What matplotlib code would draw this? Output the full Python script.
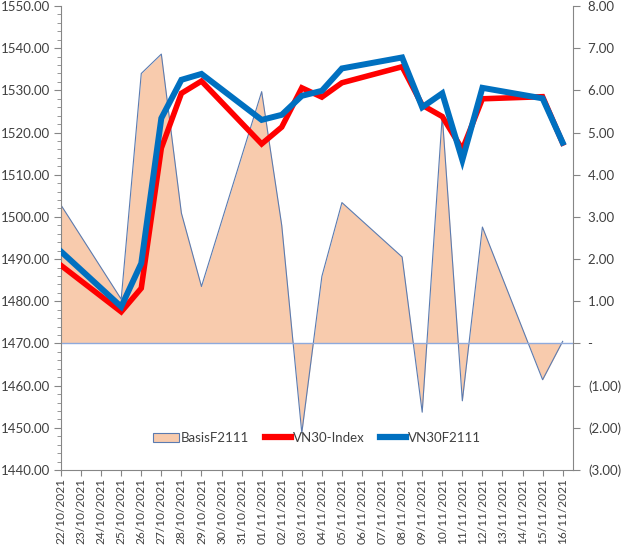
import matplotlib
matplotlib.use("Agg")
import matplotlib.pyplot as plt
import matplotlib.dates as mdates
from matplotlib.ticker import FuncFormatter, MultipleLocator
from matplotlib.patches import Patch
from matplotlib.lines import Line2D
import pandas as pd

plt.rcParams['font.family'] = ['Lato', 'DejaVu Sans']

# ---- data ----
trade_dates = ["22/10/2021", "25/10/2021", "26/10/2021", "27/10/2021", "28/10/2021",
               "29/10/2021", "01/11/2021", "02/11/2021", "03/11/2021", "04/11/2021",
               "05/11/2021", "08/11/2021", "09/11/2021", "10/11/2021", "11/11/2021",
               "12/11/2021", "15/11/2021", "16/11/2021"]
vn30_index = [1488.5, 1477.5, 1483.1, 1516.3, 1529.3, 1532.2, 1517.3, 1521.3, 1530.6,
              1528.4, 1531.8, 1535.6, 1526.5, 1523.8, 1516.0, 1528.0, 1528.5, 1517.5]
vn30f2111 = [1491.8, 1478.7, 1489.0, 1523.4, 1532.5, 1533.9, 1523.0, 1524.2, 1528.7,
             1529.9, 1535.2, 1537.8, 1526.0, 1529.3, 1513.5, 1530.6, 1528.1, 1517.6]
basis_f2111 = [3.28, 1.05, 6.40, 6.86, 3.09, 1.35, 5.97, 2.80, -2.12,
               1.59, 3.34, 2.05, -1.63, 5.40, -1.36, 2.76, -0.86, 0.05]
axis_start = "22/10/2021"
axis_end = "16/11/2021"
series_names = ["BasisF2111", "VN30-Index", "VN30F2111"]

x = pd.to_datetime(trade_dates, format="%d/%m/%Y")
all_days = pd.date_range(pd.to_datetime(axis_start, format="%d/%m/%Y"),
                         pd.to_datetime(axis_end, format="%d/%m/%Y"), freq="D")

W, H = 622, 547
fig = plt.figure(figsize=(W / 100, H / 100), dpi=100)
left, right, top, bottom = 61 / W, 572.7 / W, 1 - 6 / H, 1 - 470 / H
ax = fig.add_axes([left, bottom, right - left, top - bottom])   # area (right scale)
ax2 = ax.twinx()                                                # lines (left scale)

fill_c = "#F8CBAD"
edge_c = "#5B7BB0"
grey = "#868686"
txt = "#404040"

ax.fill_between(x, basis_f2111, 0, color=fill_c, linewidth=0, zorder=1)
ax.plot(x, basis_f2111, color=edge_c, linewidth=0.8, zorder=2)
ax.axhline(0, color="#8FAADC", linewidth=1.0, zorder=2)
ax.set_ylim(-3, 8)
ax.yaxis.tick_right()
ax.yaxis.set_major_locator(MultipleLocator(1))

def acct(v, pos):
    if abs(v) < 1e-9:
        return "-    "
    if v < 0:
        return "({:.2f})".format(-v)
    return "{:.2f} ".format(v)
ax.yaxis.set_major_formatter(FuncFormatter(acct))

ax2.plot(x, vn30_index, color="#FF0000", linewidth=4.0, solid_joinstyle="miter", zorder=3)
ax2.plot(x, vn30f2111, color="#0070C0", linewidth=4.3, solid_joinstyle="miter", zorder=4)
ax2.set_ylim(1440, 1550)
ax2.yaxis.tick_left()
ax2.yaxis.set_major_locator(MultipleLocator(10))
ax2.yaxis.set_minor_locator(MultipleLocator(2))
ax2.yaxis.set_major_formatter(FuncFormatter(lambda v, p: "{:.2f}".format(v)))

x0 = all_days[0]
ax.set_xlim(x0, all_days[-1] + pd.Timedelta(hours=12))
ax.set_xticks(all_days)
ax.set_xticklabels([d.strftime("%d/%m/%Y") for d in all_days], rotation=90)

for a in (ax, ax2):
    for s in a.spines.values():
        s.set_visible(False)
ax.spines["bottom"].set_visible(True)
ax.spines["bottom"].set_color(grey)
ax.spines["right"].set_visible(True)
ax.spines["right"].set_color(grey)
ax2.spines["left"].set_visible(True)
ax2.spines["left"].set_color(grey)

ax.tick_params(axis="x", colors=grey, labelcolor=txt, labelsize=8.6, length=4, direction="out", pad=2)
ax.tick_params(axis="y", colors=grey, labelcolor=txt, labelsize=9.5, length=5, direction="out", pad=6)
ax2.tick_params(axis="y", which="major", colors=grey, labelcolor=txt, labelsize=9.5, length=5, direction="out", pad=3)
ax2.tick_params(axis="y", which="minor", colors=grey, length=3, direction="out")

handles = [Patch(facecolor=fill_c, edgecolor=edge_c, linewidth=0.8),
           Line2D([], [], color="#FF0000", linewidth=4.5),
           Line2D([], [], color="#0070C0", linewidth=4.5)]
leg = ax2.legend(handles, series_names, loc="center", bbox_to_anchor=(0.5, 0.069),
                 ncol=3, frameon=False, fontsize=9.5, handlelength=2.0,
                 handletextpad=0.1, columnspacing=1.2, labelcolor=txt)

fig.savefig("out.png", dpi=100)
